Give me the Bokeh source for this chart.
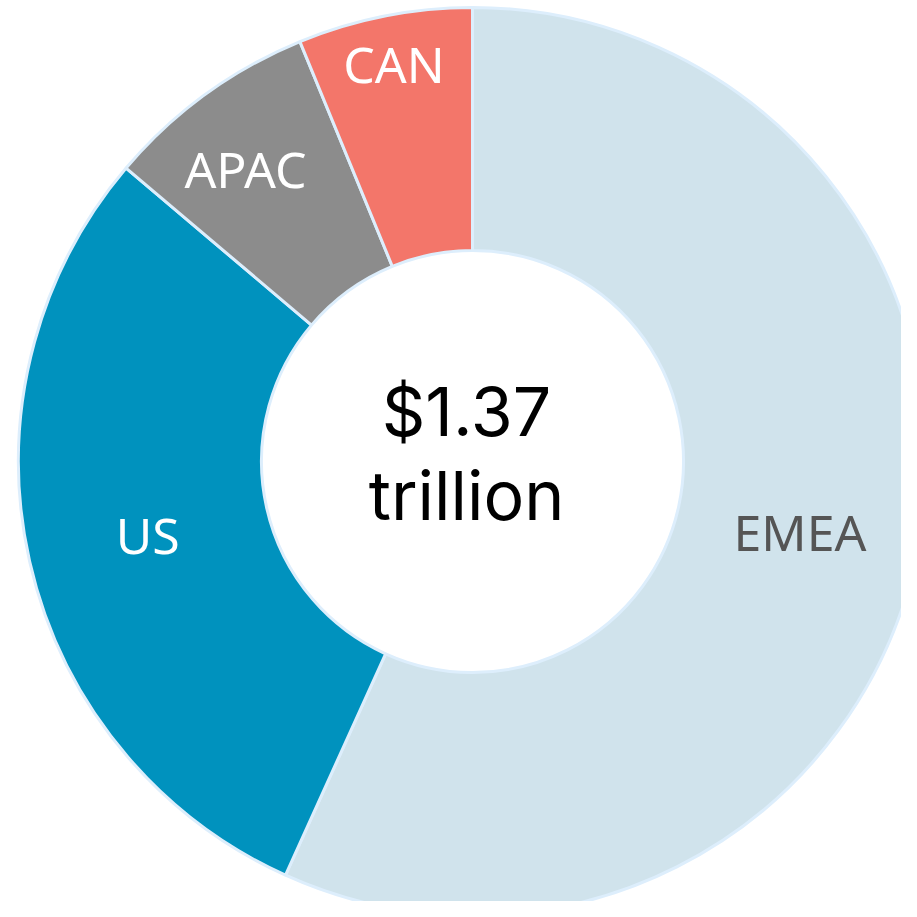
import numpy as np
from bokeh.plotting import figure
from bokeh.models import Range1d, ColumnDataSource
from bokeh.core.properties import value
from bokeh.embed import file_html
from bokeh.resources import INLINE

regions = ["EMEA", "US", "APAC", "CAN"]
shares = [56.7, 29.4, 7.6, 6.2]
colors = ["#d0e3ec", "#0092be", "#8c8c8c", "#f3766a"]
label_colors = ["#555555", "#ffffff", "#ffffff", "#ffffff"]
total_line1 = "$1.37"
total_line2 = "trillion"

W = H = 901
cx, cy = 472, 440
r_in, r_out = 211, 454
label_r = [335, 333, 370, 405]
label_dang = [0.0, 0.0, -1.8, 0.0]  # degrees

vals = np.array(shares, dtype=float)
frac = vals / vals.sum()
cum = np.concatenate([[0], np.cumsum(frac)]) * 2 * np.pi
theta0 = cum[:-1]
theta1 = cum[1:]
mid = (theta0 + theta1) / 2 + np.radians(label_dang)

src = ColumnDataSource(dict(
    region=regions,
    color=colors,
    start=np.pi / 2 - theta0,
    end=np.pi / 2 - theta1,
    lx=cx + np.array(label_r) * np.sin(mid),
    ly=cy + np.array(label_r) * np.cos(mid),
    lc=label_colors,
))

p = figure(width=W, height=H, output_backend="svg", toolbar_location=None,
           x_range=Range1d(0, W), y_range=Range1d(0, H), min_border=0)
p.axis.visible = False
p.grid.visible = False
p.outline_line_color = None
p.background_fill_color = "white"

p.annular_wedge(x=cx, y=cy, inner_radius=r_in, outer_radius=r_out,
                start_angle="start", end_angle="end", direction="clock",
                fill_color="color", line_color="#ddeefc", line_width=3, source=src)

p.text(x="lx", y="ly", text="region", text_color="lc", source=src,
       text_font=value("Noto Sans"), text_font_size="50px",
       text_align="center", text_baseline="middle")

p.text(x=[cx - 6], y=[cy + 51], text=[total_line1], text_color="black",
       text_font=value("Inter"), text_font_size="68px",
       text_align="center", text_baseline="middle")
p.text(x=[cx - 6], y=[cy - 33], text=[total_line2], text_color="black",
       text_font=value("Inter"), text_font_size="68px",
       text_align="center", text_baseline="middle")

open("out.html", "w").write(file_html(p, INLINE))
